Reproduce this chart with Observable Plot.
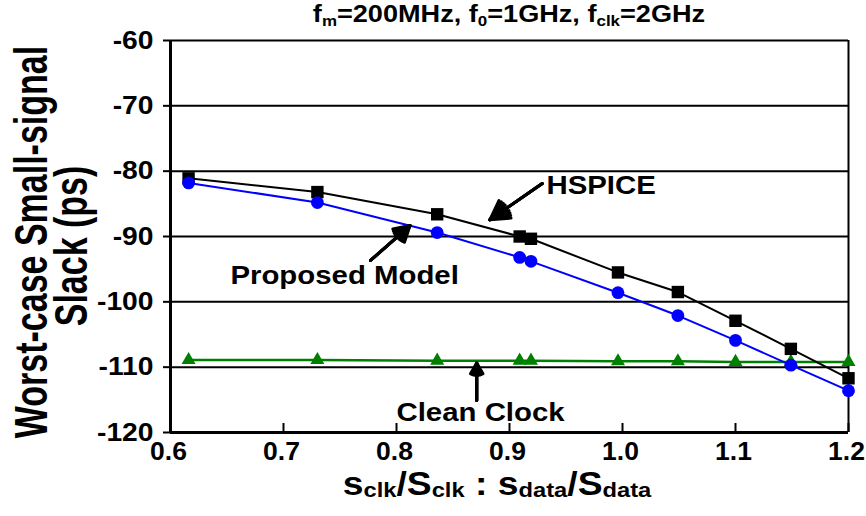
<!DOCTYPE html>
<html>
<head>
<meta charset="utf-8">
<script src="https://cdn.jsdelivr.net/npm/d3@7"></script>
<script src="https://cdn.jsdelivr.net/npm/@observablehq/plot@0.6"></script>
<style>
  html, body { margin: 0; padding: 0; background: #fff; }
  #chart { width: 866px; height: 516px; }
</style>
</head>
<body>
<div id="chart"></div>
<script>
// ---- data ----
const xRatio = [0.616, 0.730, 0.836, 0.909, 0.919, 0.996, 1.049, 1.100, 1.149, 1.200];
const hspice = [-81.1, -83.2, -86.6, -90.0, -90.35, -95.5, -98.5, -102.9, -107.2, -111.7];
const proposedModel = [-81.8, -84.8, -89.4, -93.2, -93.8, -98.6, -102.1, -105.9, -109.7, -113.6];
const cleanClock = [-108.9, -108.9, -109.0, -109.0, -109.0, -109.1, -109.1, -109.2, -109.2, -109.2];
const xTicks = [0.6, 0.7, 0.8, 0.9, 1.0, 1.1, 1.2];
const yTicks = [-120, -110, -100, -90, -80, -70, -60];
const gridValues = [-110, -100, -90, -80, -70, -60];

// annotations (data coordinates)
const labels = [
  {text: "HSPICE", x: 0.9327, y: -83.57},
  {text: "Proposed Model", x: 0.653, y: -97.24},
  {text: "Clean Clock", x: 0.800, y: -118.17}
];
const arrows = [
  {x1: 0.929, y1: -81.9, x2: 0.8826, y2: -87.45},
  {x1: 0.777, y1: -93.67, x2: 0.812, y2: -88.32},
  {x1: 0.871, y1: -115.1, x2: 0.871, y2: -109.35}
];

const rows = (ys) => xRatio.map((x, i) => ({x, y: ys[i]}));
const H = rows(hspice), P = rows(proposedModel), C = rows(cleanClock);

const headMarks = [60, 46, 32, 18].map(a =>
  Plot.arrow(arrows, {x1: "x1", y1: "y1", x2: "x2", y2: "y2", stroke: "black",
    strokeWidth: 3, headLength: 15, headAngle: a}));

const chart = Plot.plot({
  width: 866,
  height: 516,
  marginLeft: 170,
  marginRight: 18,
  marginTop: 40,
  marginBottom: 84,
  style: {fontFamily: "'Liberation Sans', Arial, sans-serif", fontWeight: "bold", color: "black", background: "white"},
  x: {domain: [0.6, 1.2], label: null},
  y: {domain: [-120, -60], label: null},
  marks: [
    Plot.ruleY(gridValues, {stroke: "black", strokeWidth: 2}),
    Plot.ruleX([1.2], {stroke: "black", strokeWidth: 2}),
    Plot.axisY({ticks: yTicks, tickSize: 7, tickPadding: 10, tickFormat: d => String(d),
      fontSize: 25, fontWeight: "bold", strokeWidth: 2, label: null}),
    Plot.axisX({ticks: xTicks, tickSize: 9, dy: -9, tickFormat: () => "", strokeWidth: 2, label: null}),
    Plot.axisX({ticks: xTicks, tickSize: 0, tickPadding: 10, dx: -2, tickFormat: d => d.toFixed(1),
      fontSize: 25, fontWeight: "bold", label: null}),
    Plot.ruleX([0.6], {stroke: "black", strokeWidth: 3}),
    Plot.ruleY([-120], {stroke: "black", strokeWidth: 3}),
    Plot.line(C, {x: "x", y: "y", stroke: "#008000", strokeWidth: 2.5}),
    Plot.dot(C, {x: "x", y: "y", symbol: "triangle", r: 5.2, fill: "#008000", stroke: "none"}),
    Plot.line(H, {x: "x", y: "y", stroke: "black", strokeWidth: 2}),
    Plot.dot(H, {x: "x", y: "y", symbol: "square", r: 7, fill: "black", stroke: "none"}),
    Plot.line(P, {x: "x", y: "y", stroke: "#0000ff", strokeWidth: 2}),
    Plot.dot(P, {x: "x", y: "y", symbol: "circle", r: 6.4, fill: "#0000ff", stroke: "none"}),
    ...headMarks,
    Plot.text(labels, {x: "x", y: "y", text: "text", textAnchor: "start", lineAnchor: "bottom",
      fontSize: 26, fontWeight: "bold", fill: "black"})
  ]
});

document.getElementById("chart").appendChild(chart);

const svg = d3.select(chart);
const SX = 1.13;

// horizontal stretch on all text produced by Plot
svg.selectAll("text").each(function() {
  const t = this.getAttribute("transform");
  if (t) this.setAttribute("transform", t + ` scale(${SX},1)`);
});
// keep x tick labels a little narrower so the last one fits
svg.selectAll("[aria-label='x-axis tick label'] text").each(function() {
  const t = this.getAttribute("transform");
  this.setAttribute("transform", t.replace(` scale(${SX},1)`, " scale(1.06,1)"));
});

// title with subscripts
const title = svg.append("text")
  .attr("transform", `translate(509,22) scale(${SX},1)`)
  .attr("text-anchor", "middle")
  .attr("font-size", 24).attr("font-weight", "bold").attr("fill", "black");
const parts = [["f", 0], ["m", 1], ["=200MHz, f", 0], ["0", 1], ["=1GHz, f", 0], ["clk", 1], ["=2GHz", 0]];
let prevSub = 0;
parts.forEach(([s, sub]) => {
  title.append("tspan").attr("font-size", sub ? 15 : 24).attr("dy", (sub - prevSub) * 4).text(s);
  prevSub = sub;
});

// x-axis title
const xt = svg.append("text")
  .attr("transform", `translate(497,495) scale(${SX},1)`)
  .attr("text-anchor", "middle")
  .attr("font-weight", "bold").attr("fill", "black");
const xparts = [["s", 0], ["clk", 1], ["/S", 0], ["clk", 1], [" : s", 0], ["data", 1], ["/S", 0], ["data", 1]];
prevSub = 0;
xparts.forEach(([s, sub]) => {
  xt.append("tspan").attr("font-size", sub ? 21 : 33).attr("dy", (sub - prevSub) * 2).text(s);
  prevSub = sub;
});

// y-axis title (two lines)
[["Worst-case Small-signal", 47, 242], ["Slack (ps)", 87, 246]].forEach(([s, x, y]) => {
  svg.append("text")
    .attr("transform", `translate(${x},${y}) rotate(-90) scale(1,1.38)`)
    .attr("text-anchor", "middle")
    .attr("font-size", 34).attr("font-weight", "bold").attr("fill", "black")
    .text(s);
});
</script>
</body>
</html>
